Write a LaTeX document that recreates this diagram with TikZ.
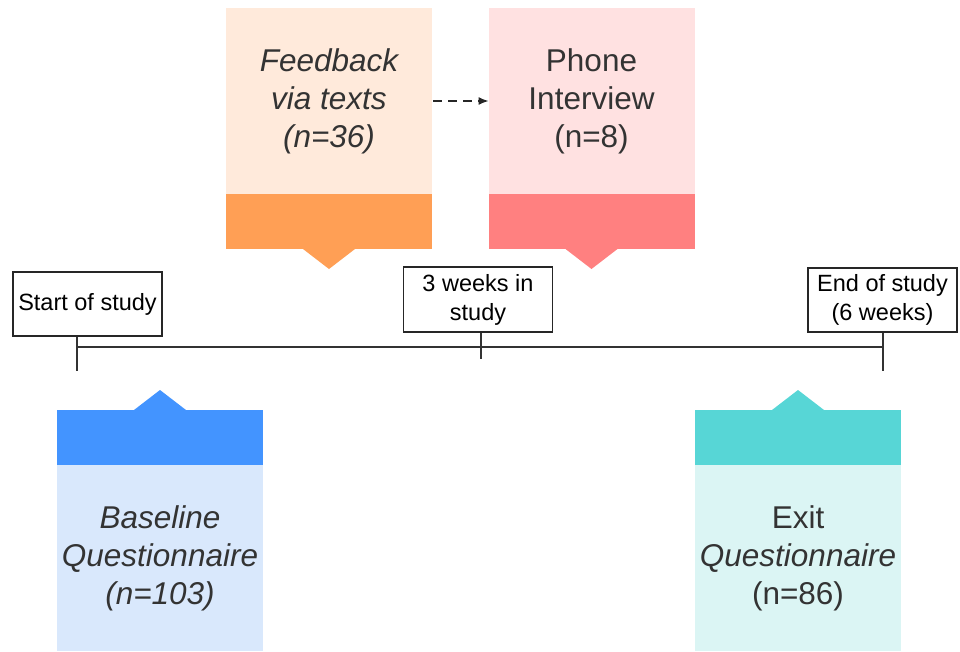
\documentclass[tikz,border=0pt]{standalone}
\usepackage{fontspec}
\setmainfont{Liberation Sans}
\usetikzlibrary{positioning, arrows.meta}

\definecolor{fbLight}{HTML}{FFEADB}
\definecolor{fbDark}{HTML}{FF9F55}
\definecolor{phLight}{HTML}{FFE1E1}
\definecolor{phDark}{HTML}{FF8080}
\definecolor{blLight}{HTML}{D9E8FC}
\definecolor{blDark}{HTML}{4394FF}
\definecolor{exLight}{HTML}{DBF5F4}
\definecolor{exDark}{HTML}{57D6D6}
\definecolor{ink}{HTML}{333333}

\begin{document}
\begin{tikzpicture}[x=1pt, y=-1pt,
    card/.style={minimum width=206pt, minimum height=186pt, inner sep=0pt, outer sep=0pt,
        align=center, text=ink, font=\fontsize{31.5}{38}\selectfont},
    band/.style={minimum width=206pt, minimum height=55pt, inner sep=0pt, outer sep=0pt},
    markbox/.style={draw=black!85, line width=1.3pt, fill=white, inner sep=0pt,
        minimum width=149pt, minimum height=64pt, align=center, font=\fontsize{23.5}{29}\selectfont},
    axis/.style={draw=ink, line width=1.6pt}]
    \useasboundingbox (0,0) rectangle (960,651);

    % top cards
    \node[card, fill=fbLight, anchor=north] (feedback) at (329,8) {\itshape Feedback\\\itshape via texts\\\itshape (n=36)};
    \node[band, fill=fbDark, anchor=north]  (feedbackband) at (feedback.south) {};
    \fill[fbDark] ([xshift=-26pt]feedbackband.south) -- ([yshift=-20pt]feedbackband.south) -- ([xshift=26pt]feedbackband.south) -- cycle;

    \node[card, fill=phLight, anchor=north] (phone) at (591.5,8) {Phone\\Interview\\(n=8)};
    \node[band, fill=phDark, anchor=north]  (phoneband) at (phone.south) {};
    \fill[phDark] ([xshift=-26pt]phoneband.south) -- ([yshift=-20pt]phoneband.south) -- ([xshift=26pt]phoneband.south) -- cycle;

    % bottom cards
    \node[card, fill=blLight, anchor=south] (baseline) at (160,651) {\itshape Baseline\\\itshape Questionnaire\\\itshape (n=103)};
    \node[band, fill=blDark, anchor=south]  (baselineband) at (baseline.north) {};
    \fill[blDark] ([xshift=-26pt]baselineband.north) -- ([yshift=20pt]baselineband.north) -- ([xshift=26pt]baselineband.north) -- cycle;

    \node[card, fill=exLight, anchor=south] (exit) at (798,651) {Exit\\\itshape Questionnaire\\(n=86)};
    \node[band, fill=exDark, anchor=south]  (exitband) at (exit.north) {};
    \fill[exDark] ([xshift=-26pt]exitband.north) -- ([yshift=20pt]exitband.north) -- ([xshift=26pt]exitband.north) -- cycle;

    % timeline
    \coordinate (t0) at (77,347);
    \coordinate (t3) at (481,347);
    \coordinate (t6) at (883,347);
    \node[markbox] (start) at (87.5,304) {Start of study};
    \node[markbox, minimum height=65pt] (mid) at (478,299.5) {3 weeks in\\study};
    \node[markbox] (end) at (882.5,300) {End of study\\(6 weeks)};

    \draw[axis] (t0) -- (t6);
    \draw[axis] (t0 |- start.south) -- ++(0,34);
    \draw[axis] (t3 |- mid.south) -- ++(0,26);
    \draw[axis] (t6 |- end.south) -- ++(0,38);

    \draw[black!85, line width=1.3pt, dash pattern=on 9pt off 6pt, -{Latex[length=10pt,width=8pt]}, shorten <=1pt]
        (feedback.east) -- (phone.west);
\end{tikzpicture}
\end{document}
